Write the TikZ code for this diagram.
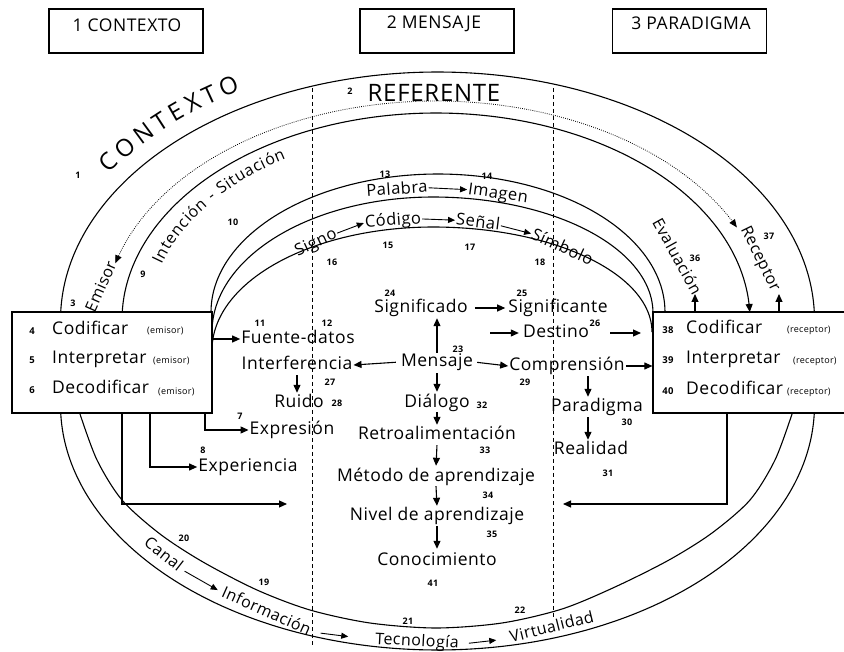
\documentclass[tikz,border=0pt]{standalone}
\usepackage{fontspec}
\setmainfont{Open Sans}[LetterSpace=3]
\usetikzlibrary{arrows.meta,decorations.text}
\tikzset{
  ln/.style={line width=1.1pt},
  tip/.style={-{Triangle[length=8pt,width=7pt]}},
  arr/.style={line width=1.1pt,-{Triangle[length=8pt,width=7pt]}},
  sarr/.style={line width=0.9pt,-{Triangle[length=7pt,width=6pt]}},
  dsh/.style={line width=1pt,dash pattern=on 4pt off 3pt},
  dts/.style={line width=0.8pt,dash pattern=on 0.8pt off 1.3pt},
  num/.style={font=\fontsize{9}{10}\selectfont\bfseries,inner sep=0pt},
  wd/.style={font=\fontsize{17.5}{19}\selectfont,inner sep=1pt,text height=12.5pt,text depth=3.5pt},
  aw/.style={font=\fontsize{16.5}{18}\selectfont,inner sep=1pt,text height=12pt,text depth=3pt},
  cw/.style={font=\fontsize{16}{18}\selectfont,inner sep=1pt,text height=11.5pt,text depth=3pt},
  bw/.style={font=\fontsize{17.5}{19}\selectfont,inner sep=0pt,anchor=base west},
  sm/.style={font=\fontsize{9}{10}\selectfont,inner sep=0pt,anchor=base west},
  bnum/.style={font=\fontsize{9.5}{10}\selectfont\bfseries,inner sep=0pt,anchor=base},
  tbox/.style={draw,line width=1.2pt,minimum width=154pt,minimum height=44pt},
  ttl/.style={font=\fontsize{17.5}{19}\selectfont,inner sep=0pt},
  bigbox/.style={draw,line width=1.2pt,fill=white,minimum height=101pt},
}
\begin{document}
\begin{tikzpicture}[x=1pt,y=-1pt]
\useasboundingbox (0,0) rectangle (844,652);
\clip (0,0) rectangle (844,652);
\fill[white] (0,0) rectangle (844,652);

% title boxes
\node[tbox] (t1) at (126,31) {};
\node[ttl] (t1t) at (127,25) {1 CONTEXTO};
\node[tbox] (t2) at (437,31) {};
\node[ttl] (t2t) at (434,24) {2 MENSAJE};
\node[tbox] (t3) at (689.5,31) {};
\node[ttl] (t3t) at (691,23) {3 PARADIGMA};

% dashed separators
\draw[dsh] (312,88) -- (312,645);
\draw[dsh] (553,88) -- (553,617);

% outer arcs
\draw[ln] plot[domain=178.15:1.85,samples=150] ({437.5+377*cos(\x)},{320-248*sin(\x)});
\draw[ln,tip] plot[domain=177.8:2.2,samples=150] ({436+314*cos(\x)},{320-207*sin(\x)});
\draw[dts,{Triangle[length=8pt,width=6.5pt]}-{Triangle[length=8pt,width=6.5pt]}] plot[domain=165:25,samples=120] ({436+332*cos(\x)},{320-219*sin(\x)});
\draw[ln] plot[domain=182.1:357.9,samples=150] ({437.5+377*cos(\x)},{405-245*sin(\x)});
\draw[ln] plot[smooth] coordinates {(80,414) (97,460) (122,500) (160,534) (203,562) (257,590) (310,610) (370,623) (436,628) (502,623) (562,609) (615,587) (669,560) (712,533) (750,500) (775,460) (792,414)};

% inner arcs
\draw[ln] plot[domain=180:0,samples=100] ({438+227*cos(\x)},{312-138*sin(\x)});
\draw[ln] plot[domain=180:90,samples=50] ({433+221*cos(\x)},{332-135*sin(\x)}) -- plot[domain=90:0,samples=50] ({433+220*cos(\x)},{313-116*sin(\x)});
\draw[ln] plot[domain=180:90,samples=50] ({433+221*cos(\x)},{350-123*sin(\x)}) -- plot[domain=90:0,samples=50] ({433+219*cos(\x)},{332-105*sin(\x)});

% curved texts
\path[decorate,decoration={text along path,text={|\fontsize{24}{24}\selectfont|CONTEXTO},text align=fit to path}] plot[domain=146.5:120,samples=40] ({437.5+394*cos(\x)},{320-265*sin(\x)});
\path[decorate,decoration={text along path,text={|\fontsize{16}{16}\selectfont|Intención - Situación},text align=fit to path}] plot[domain=163:121.5,samples=40] ({436+287*cos(\x)},{320-189*sin(\x)});

\node[font=\fontsize{24}{26}\selectfont,inner sep=0pt] (ref) at (434,93) {REFERENTE};

% boxes
\node[bigbox,minimum width=200pt] (lb) at (112,362.5) {};
\node[bigbox,minimum width=220pt] (rb) at (763,362.5) {};

\node[bnum] (n4) at (32,335) {4};
\node[bw] (cod) at (52,335) {Codificar};
\node[sm] (em1) at (147,334) {(emisor)};
\node[bnum] (n5) at (32,364) {5};
\node[bw] (int) at (52,364) {Interpretar};
\node[sm] (em2) at (153,364) {(emisor)};
\node[bnum] (n6) at (32,394) {6};
\node[bw] (dec) at (52,394) {Decodificar};
\node[sm] (em3) at (158,395) {(emisor)};

\node[bnum] (n38) at (668,334) {38};
\node[bw] (rcod) at (686,334) {Codificar};
\node[sm] (re1) at (787,333) {(receptor)};
\node[bnum] (n39) at (668,364) {39};
\node[bw] (rint) at (686,364) {Interpretar};
\node[sm] (re2) at (793,364) {(receptor)};
\node[bnum] (n40) at (668,395) {40};
\node[bw] (rdec) at (686,395) {Decodificar};
\node[sm] (re3) at (787,395) {(receptor)};

% arc words
\node[aw,rotate=4] (pal) at (397,190) {Palabra};
\node[aw,rotate=-8] (ima) at (498,194) {Imagen};
\node[aw,rotate=25] (sgn) at (316,243) {Signo};
\node[aw,rotate=4] (cdg) at (393,221) {Código};
\node[aw,rotate=-7] (snl) at (478,223) {Señal};
\node[aw,rotate=-25] (smb) at (562,248) {Símbolo};
\draw[sarr] (pal.east) -- (ima.west);
\draw[sarr] (sgn.east) -- (cdg.west);
\draw[sarr] (cdg.east) -- (snl.west);
\draw[sarr] (snl.east) -- (smb.west);

% side words
\node[cw,rotate=66] (emi) at (102,287) {Emisor};
\node[cw,rotate=-61] (eva) at (676,257) {Evaluación};
\node[cw,rotate=-64] (rec) at (760,259) {Receptor};

% bottom chain
\node[cw,rotate=-38] (can) at (163,555) {Canal};
\node[cw,rotate=-24] (ifo) at (266,612) {Información};
\node[cw,rotate=-3] (tec) at (417,642) {Tecnología};
\node[cw,rotate=14] (vir) at (552,628) {Virtualidad};
\draw[sarr,shorten <=4pt,shorten >=4pt] (can.east) -- (ifo.west);
\draw[sarr,shorten <=10pt,shorten >=26pt] (ifo.east) -- (tec.west);
\draw[sarr,shorten <=9pt,shorten >=13pt] (tec.east) -- (vir.west);

% centre words
\node[wd] (sig) at (421,308) {Significado};
\node[wd] (ste) at (558,308) {Significante};
\node[wd] (fd) at (298,339) {Fuente-datos};
\node[wd] (des) at (556,333) {Destino};
\node[wd] (inf) at (297,365) {Interferencia};
\node[wd] (men) at (437,362) {Mensaje};
\node[wd] (com) at (567,366) {Comprensión};
\node[wd] (rui) at (299,403) {Ruido};
\node[wd] (dia) at (437,403) {Diálogo};
\node[wd] (par) at (597,407) {Paradigma};
\node[wd] (exr) at (292,430) {Expresión};
\node[wd] (ret) at (437,435) {Retroalimentación};
\node[wd] (rea) at (591,450) {Realidad};
\node[wd] (exp) at (248,467) {Experiencia};
\node[wd] (met) at (436,477) {Método de aprendizaje};
\node[wd] (niv) at (437,516) {Nivel de aprendizaje};
\node[wd] (con) at (437,561) {Conocimiento};

% centre connectors
\draw[arr,shorten >=1pt] (men.north) -- (men.north |- sig.south);
\draw[arr,shorten <=6pt,shorten >=2pt] (sig.east) -- (ste.west);
\coordinate (d0) at (490,333);
\draw[arr,shorten >=3pt] (d0) -- (des.west);
\coordinate (d1) at (641,333);
\draw[arr] ([xshift=20pt]des.east) -- (d1);
\draw[arr,shorten <=4pt] (men.west) -- (inf.east);
\draw[arr,shorten <=3pt] (men.east) -- (com.west);
\draw[arr] (com.east) -- (rb.west |- com.east);
\draw[arr,shorten <=1pt,shorten >=1pt] (inf.south) -- (inf.south |- rui.north);
\draw[arr,shorten <=2pt,shorten >=2pt] (men.south) -- (dia.north);
\draw[arr,shorten >=1pt] (dia.south) -- (ret.north);
\draw[arr,shorten <=1pt,shorten >=2pt] (ret.south) -- (met.north);
\draw[arr,shorten >=1pt] (met.south) -- (niv.north);
\draw[arr,shorten <=1pt,shorten >=3pt] (niv.south) -- (con.north);
\draw[arr,shorten <=1pt,shorten >=1pt] ([xshift=21pt]com.south) -- ([xshift=21pt]com.south |- par.north);
\draw[arr,shorten <=1pt,shorten >=1pt] ([xshift=-9pt]par.south) -- ([xshift=-9pt]par.south |- rea.north);

% box connectors
\draw[arr] (lb.east |- fd.west) -- (fd.west);
\draw[arr] ([xshift=93pt]lb.south) |- (exr.west);
\draw[arr] ([xshift=38pt]lb.south) |- (exp.west);
\coordinate (lc) at (287,504);
\draw[arr] ([xshift=10pt]lb.south) |- (lc);
\coordinate (rc) at (563,504);
\draw[arr] ([xshift=-36pt]rb.south) |- (rc);
\coordinate (eva0) at (695,294);
\draw[arr] ([xshift=-68pt]rb.north) -- (eva0);
\coordinate (rec0) at (779,294);
\draw[arr] ([xshift=16pt]rb.north) -- (rec0);

% numbers
\node[num] (k1) at (78,175) {1};
\node[num] (k2) at (350,91) {2};
\node[num] (k3) at (73,303) {3};
\node[num] (k7) at (240,416) {7};
\node[num] (k8) at (203,450) {8};
\node[num] (k9) at (143,274) {9};
\node[num] (k10) at (233,222) {10};
\node[num] (k11) at (260,323) {11};
\node[num] (k12) at (327,323) {12};
\node[num] (k13) at (385,174) {13};
\node[num] (k14) at (487,176) {14};
\node[num] (k15) at (388,245) {15};
\node[num] (k16) at (332,262) {16};
\node[num] (k17) at (470,247) {17};
\node[num] (k18) at (540,262) {18};
\node[num] (k19) at (264,582) {19};
\node[num] (k20) at (184,538) {20};
\node[num] (k21) at (408,621) {21};
\node[num] (k22) at (520,610) {22};
\node[num] (k23) at (458,349) {23};
\node[num] (k24) at (390,293) {24};
\node[num] (k25) at (522,293) {25};
\node[num] (k26) at (595,323) {26};
\node[num] (k27) at (330,382) {27};
\node[num] (k28) at (337,403) {28};
\node[num] (k29) at (525,382) {29};
\node[num] (k30) at (627,422) {30};
\node[num] (k31) at (608,473) {31};
\node[num] (k32) at (482,405) {32};
\node[num] (k33) at (485,450) {33};
\node[num] (k34) at (488,495) {34};
\node[num] (k35) at (492,534) {35};
\node[num] (k36) at (695,258) {36};
\node[num] (k37) at (769,236) {37};
\node[num] (k41) at (433,583) {41};
\end{tikzpicture}
\end{document}
